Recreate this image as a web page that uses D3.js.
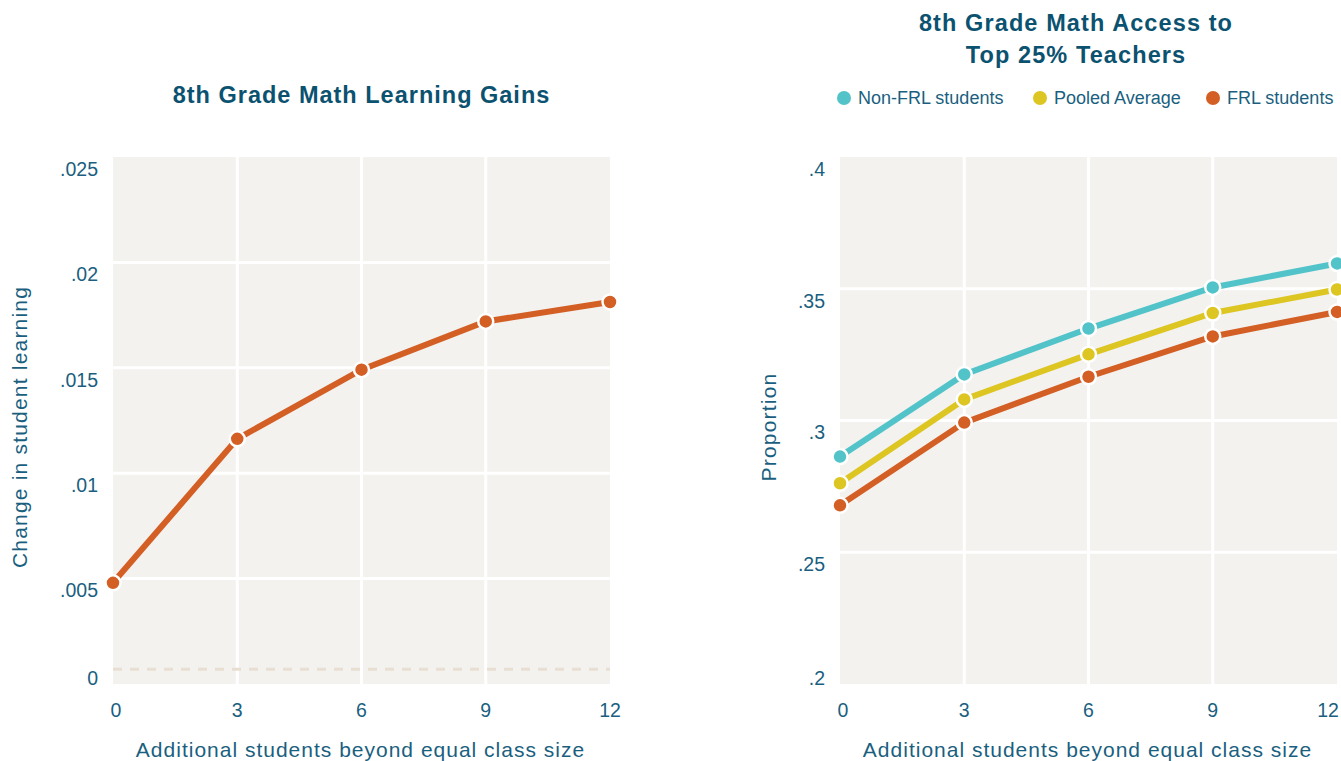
<!DOCTYPE html>
<html>
<head>
<meta charset="utf-8">
<script src="https://cdn.jsdelivr.net/npm/d3@7"></script>
<style>
  body { margin: 0; background: #fff; }
  svg text { font-family: "Liberation Sans", Arial, sans-serif; }
</style>
</head>
<body>
<script>
// 数据
var classSizes = [0, 3, 6, 9, 12];
var xTicks = [0, 3, 6, 9, 12];

// 左图：学习增益
var learningGains = [0.0048, 0.01163, 0.01491, 0.0172, 0.01812];
var gainsTicks = [0, 0.005, 0.01, 0.015, 0.02, 0.025];
var gainsTickLabels = ["0", ".005", ".01", ".015", ".02", ".025"];
var gainsBaseline = 0.0007;

// 右图：优秀教师比例
var seriesNames = ["Non-FRL students", "Pooled Average", "FRL students"];
var nonFrl = [0.2863, 0.3175, 0.3349, 0.3505, 0.3596];
var pooled = [0.2762, 0.3080, 0.3251, 0.3408, 0.3497];
var frl = [0.2678, 0.2992, 0.3166, 0.3319, 0.3412];
var propTicks = [0.2, 0.25, 0.3, 0.35, 0.4];
var propTickLabels = [".2", ".25", ".3", ".35", ".4"];

// 颜色
var orange = "#d35f25";
var teal = "#52c3c9";
var yellow = "#ddc522";
var titleColor = "#0b5270";
var textColor = "#1a5f80";
var plotBg = "#f3f2ef";

var W = 1341, H = 761;
var svg = d3.select("body").append("svg")
    .attr("width", W)
    .attr("height", H);

// 画一个图
function drawPanel(opt) {
    var x = d3.scaleLinear().domain([0, 12]).range([opt.left, opt.left + 497]);
    var y = d3.scaleLinear().domain(opt.yDomain).range([684, 157]);
    var g = svg.append("g");

    // 背景
    g.append("rect")
        .attr("x", x(0)).attr("y", y(opt.yDomain[1]))
        .attr("width", x(12) - x(0))
        .attr("height", y(opt.yDomain[0]) - y(opt.yDomain[1]))
        .attr("fill", plotBg);

    // 网格线
    g.selectAll(".vgrid")
        .data(xTicks.slice(1, -1))
        .enter().append("line")
        .attr("x1", function (d) { return x(d); })
        .attr("x2", function (d) { return x(d); })
        .attr("y1", y(opt.yDomain[1])).attr("y2", y(opt.yDomain[0]))
        .attr("stroke", "#fff").attr("stroke-width", 3);
    g.selectAll(".hgrid")
        .data(opt.yTicks.slice(1, -1))
        .enter().append("line")
        .attr("x1", x(0)).attr("x2", x(12))
        .attr("y1", function (d) { return y(d); })
        .attr("y2", function (d) { return y(d); })
        .attr("stroke", "#fff").attr("stroke-width", 3);

    // 刻度标签
    g.selectAll(".ytick")
        .data(opt.yTicks)
        .enter().append("text")
        .attr("x", x(0) - 15)
        .attr("y", function (d) { return Math.min(y(d) + 12, 678); })
        .attr("dy", "0.35em")
        .attr("text-anchor", "end")
        .attr("font-size", 19.5)
        .attr("fill", textColor)
        .text(function (d, i) { return opt.yLabels[i]; });
    g.selectAll(".xtick")
        .data(xTicks)
        .enter().append("text")
        .attr("x", function (d) { return Math.min(x(d) + (d == 0 ? 3 : 0), W - 13); })
        .attr("y", 710)
        .attr("dy", "0.35em")
        .attr("text-anchor", "middle")
        .attr("font-size", 19.5)
        .attr("fill", textColor)
        .text(function (d) { return d; });

    // 轴标题
    g.append("text")
        .attr("x", x(6) - 1).attr("y", 750)
        .attr("dy", "0.35em")
        .attr("text-anchor", "middle")
        .attr("font-size", 21)
        .attr("letter-spacing", 1)
        .attr("fill", textColor)
        .text("Additional students beyond equal class size");
    g.append("text")
        .attr("transform", "translate(" + opt.yTitleX + ",427) rotate(-90)")
        .attr("dy", "0.35em")
        .attr("text-anchor", "middle")
        .attr("font-size", 21)
        .attr("letter-spacing", 1.2)
        .attr("fill", textColor)
        .text(opt.yTitle);

    return { x: x, y: y, g: g };
}

function drawSeries(p, values, color) {
    var line = d3.line()
        .x(function (d, i) { return p.x(classSizes[i]); })
        .y(function (d) { return p.y(d); });
    p.g.append("path")
        .datum(values)
        .attr("d", line)
        .attr("fill", "none")
        .attr("stroke", color)
        .attr("stroke-width", 6);
    p.g.selectAll(null)
        .data(values)
        .enter().append("circle")
        .attr("cx", function (d, i) { return p.x(classSizes[i]); })
        .attr("cy", function (d) { return p.y(d); })
        .attr("r", 7.5)
        .attr("fill", color)
        .attr("stroke", "#fff")
        .attr("stroke-width", 2.5);
}

// ———— 左图 ———— //
var left = drawPanel({
    left: 113,
    yDomain: [0, 0.025],
    yTicks: gainsTicks,
    yLabels: gainsTickLabels,
    yTitle: "Change in student learning",
    yTitleX: 20
});
left.g.append("line")
    .attr("x1", left.x(0)).attr("x2", left.x(12))
    .attr("y1", left.y(gainsBaseline)).attr("y2", left.y(gainsBaseline))
    .attr("stroke", "#e8dfd2")
    .attr("stroke-width", 3)
    .attr("stroke-dasharray", "9,8");
drawSeries(left, learningGains, orange);

svg.append("text")
    .attr("x", left.x(6)).attr("y", 95)
    .attr("dy", "0.35em")
    .attr("text-anchor", "middle")
    .attr("font-size", 23.5)
    .attr("font-weight", "bold")
    .attr("letter-spacing", 1)
    .attr("fill", titleColor)
    .text("8th Grade Math Learning Gains");

// ———— 右图 ———— //
var right = drawPanel({
    left: 840,
    yDomain: [0.2, 0.4],
    yTicks: propTicks,
    yLabels: propTickLabels,
    yTitle: "Proportion",
    yTitleX: 769
});
drawSeries(right, nonFrl, teal);
drawSeries(right, pooled, yellow);
drawSeries(right, frl, orange);

var rightTitle = svg.append("text")
    .attr("x", 1076)
    .attr("text-anchor", "middle")
    .attr("font-size", 23.5)
    .attr("font-weight", "bold")
    .attr("letter-spacing", 1.1)
    .attr("fill", titleColor);
rightTitle.append("tspan").attr("x", 1076).attr("y", 31).text("8th Grade Math Access to");
rightTitle.append("tspan").attr("x", 1076).attr("y", 63).text("Top 25% Teachers");

// 图例
var legendColors = [teal, yellow, orange];
var legendX = [844, 1040, 1213];
var legend = svg.selectAll(".legend")
    .data(seriesNames)
    .enter().append("g")
    .attr("transform", function (d, i) { return "translate(" + legendX[i] + ",98)"; });
legend.append("circle")
    .attr("r", 7)
    .attr("fill", function (d, i) { return legendColors[i]; });
legend.append("text")
    .attr("x", 14)
    .attr("dy", "0.35em")
    .attr("font-size", 18)
    .attr("fill", textColor)
    .text(function (d) { return d; });
</script>
</body>
</html>
